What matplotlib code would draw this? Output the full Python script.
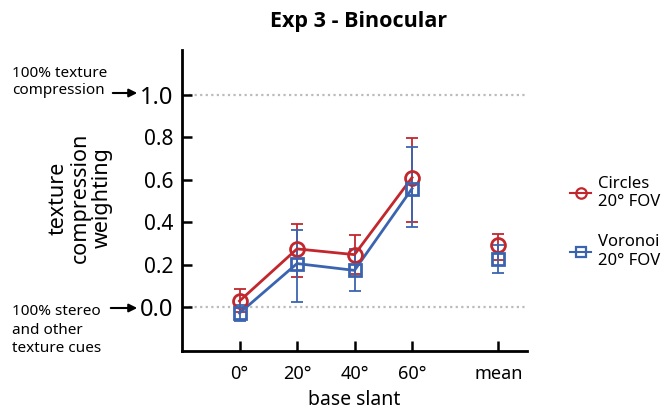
import numpy as np
import matplotlib
matplotlib.use("Agg")
import matplotlib.pyplot as plt
from matplotlib.patches import FancyArrowPatch

plt.rcParams['font.family'] = ['Noto Sans', 'DejaVu Sans']

# data
slants = ['0°', '20°', '40°', '60°', 'mean']
x_pos = [0, 1, 2, 3, 4.5]

circles = [0.030, 0.275, 0.248, 0.610, 0.293]
circles_lo = [-0.020, 0.145, 0.155, 0.400, 0.225]
circles_hi = [0.085, 0.392, 0.342, 0.795, 0.345]

voronoi = [-0.027, 0.206, 0.174, 0.558, 0.228]
voronoi_lo = [-0.063, 0.023, 0.075, 0.380, 0.162]
voronoi_hi = [0.010, 0.366, 0.275, 0.752, 0.295]

yticks = [0.0, 0.2, 0.4, 0.6, 0.8, 1.0]

red = '#c1272d'
blue = '#3b64b0'

fig = plt.figure(figsize=(6.69, 4.15), dpi=100)
ax = fig.add_axes([182 / 669, 64 / 415, 345 / 669, 301 / 415])

# dotted reference lines
for yv in (0.0, 1.0):
    ax.axhline(yv, xmin=0.02, xmax=1, color='#bbbbbb', lw=1.6, ls=(0, (1, 1.5)), zorder=0)


def draw(vals, lo, hi, color, marker, ms, label):
    vals = np.array(vals)
    err = [vals - np.array(lo), np.array(hi) - vals]
    ax.errorbar(x_pos, vals, yerr=err, fmt='none', ecolor=color, elinewidth=1.3,
                capsize=4, capthick=1.3, zorder=2)
    ax.plot(x_pos[:4], vals[:4], color=color, lw=2, zorder=3)
    ax.plot(x_pos, vals, ls='none', marker=marker, ms=ms, mfc='none', mec=color,
            mew=2, zorder=4)
    # legend proxy
    ax.plot([], [], color=color, lw=1.5, marker=marker, ms=ms * 0.75, mfc='none',
            mec=color, mew=1.6, label=label)


draw(circles, circles_lo, circles_hi, red, 'o', 10, 'Circles\n20° FOV')
draw(voronoi, voronoi_lo, voronoi_hi, blue, 's', 9, 'Voronoi\n20° FOV')

ax.set_xlim(-1, 5)
ax.set_ylim(-0.205, 1.21)
ax.set_xticks(x_pos)
ax.set_xticklabels(slants, fontsize=13)
ax.set_yticks(yticks)
ax.set_yticklabels([f'{v:.1f}' for v in yticks], fontsize=15)
for lab in ax.get_yticklabels():
    if lab.get_text() in ('0.0', '1.0'):
        lab.set_fontsize(17)
ax.tick_params(direction='in', length=7, width=1.8, pad=6)
ax.tick_params(axis='x', pad=10)

for s in ('top', 'right'):
    ax.spines[s].set_visible(False)
for s in ('left', 'bottom'):
    ax.spines[s].set_linewidth(2)

ax.set_xlabel('base slant', fontsize=14, labelpad=5)

fig.text(80 / 669, 1 - 198 / 415, 'texture\ncompression\nweighting', rotation=90,
         ha='center', va='center', fontsize=15.5, multialignment='center',
         linespacing=1.05)

fig.text(359 / 669, 1 - 22 / 415, 'Exp 3 - Binocular', ha='center', va='center',
         fontsize=15.5, fontweight='bold', family=['Open Sans', 'DejaVu Sans'])

# side annotations
fig.text(12 / 669, 1 - 82 / 415, '100% texture\ncompression', ha='left', va='center',
         fontsize=11, linespacing=1.25)
fig.text(12 / 669, 1 - 330 / 415, '100% stereo\nand other\ntexture cues', ha='left',
         va='center', fontsize=11, linespacing=1.3)
for y_px, x0 in ((93, 110), (308, 108)):
    fig.add_artist(FancyArrowPatch(
        (x0 / 669, 1 - y_px / 415), (140 / 669, 1 - y_px / 415),
        transform=fig.transFigure, arrowstyle='-|>', mutation_scale=12,
        color='black', lw=1.5))

fig.legend(loc='upper left', bbox_to_anchor=(563 / 669, 1 - 169 / 415),
           frameon=False, fontsize=12, handlelength=1.3, handletextpad=0.4,
           labelspacing=1.45, borderaxespad=0)

fig.savefig('out.png', dpi=100)
